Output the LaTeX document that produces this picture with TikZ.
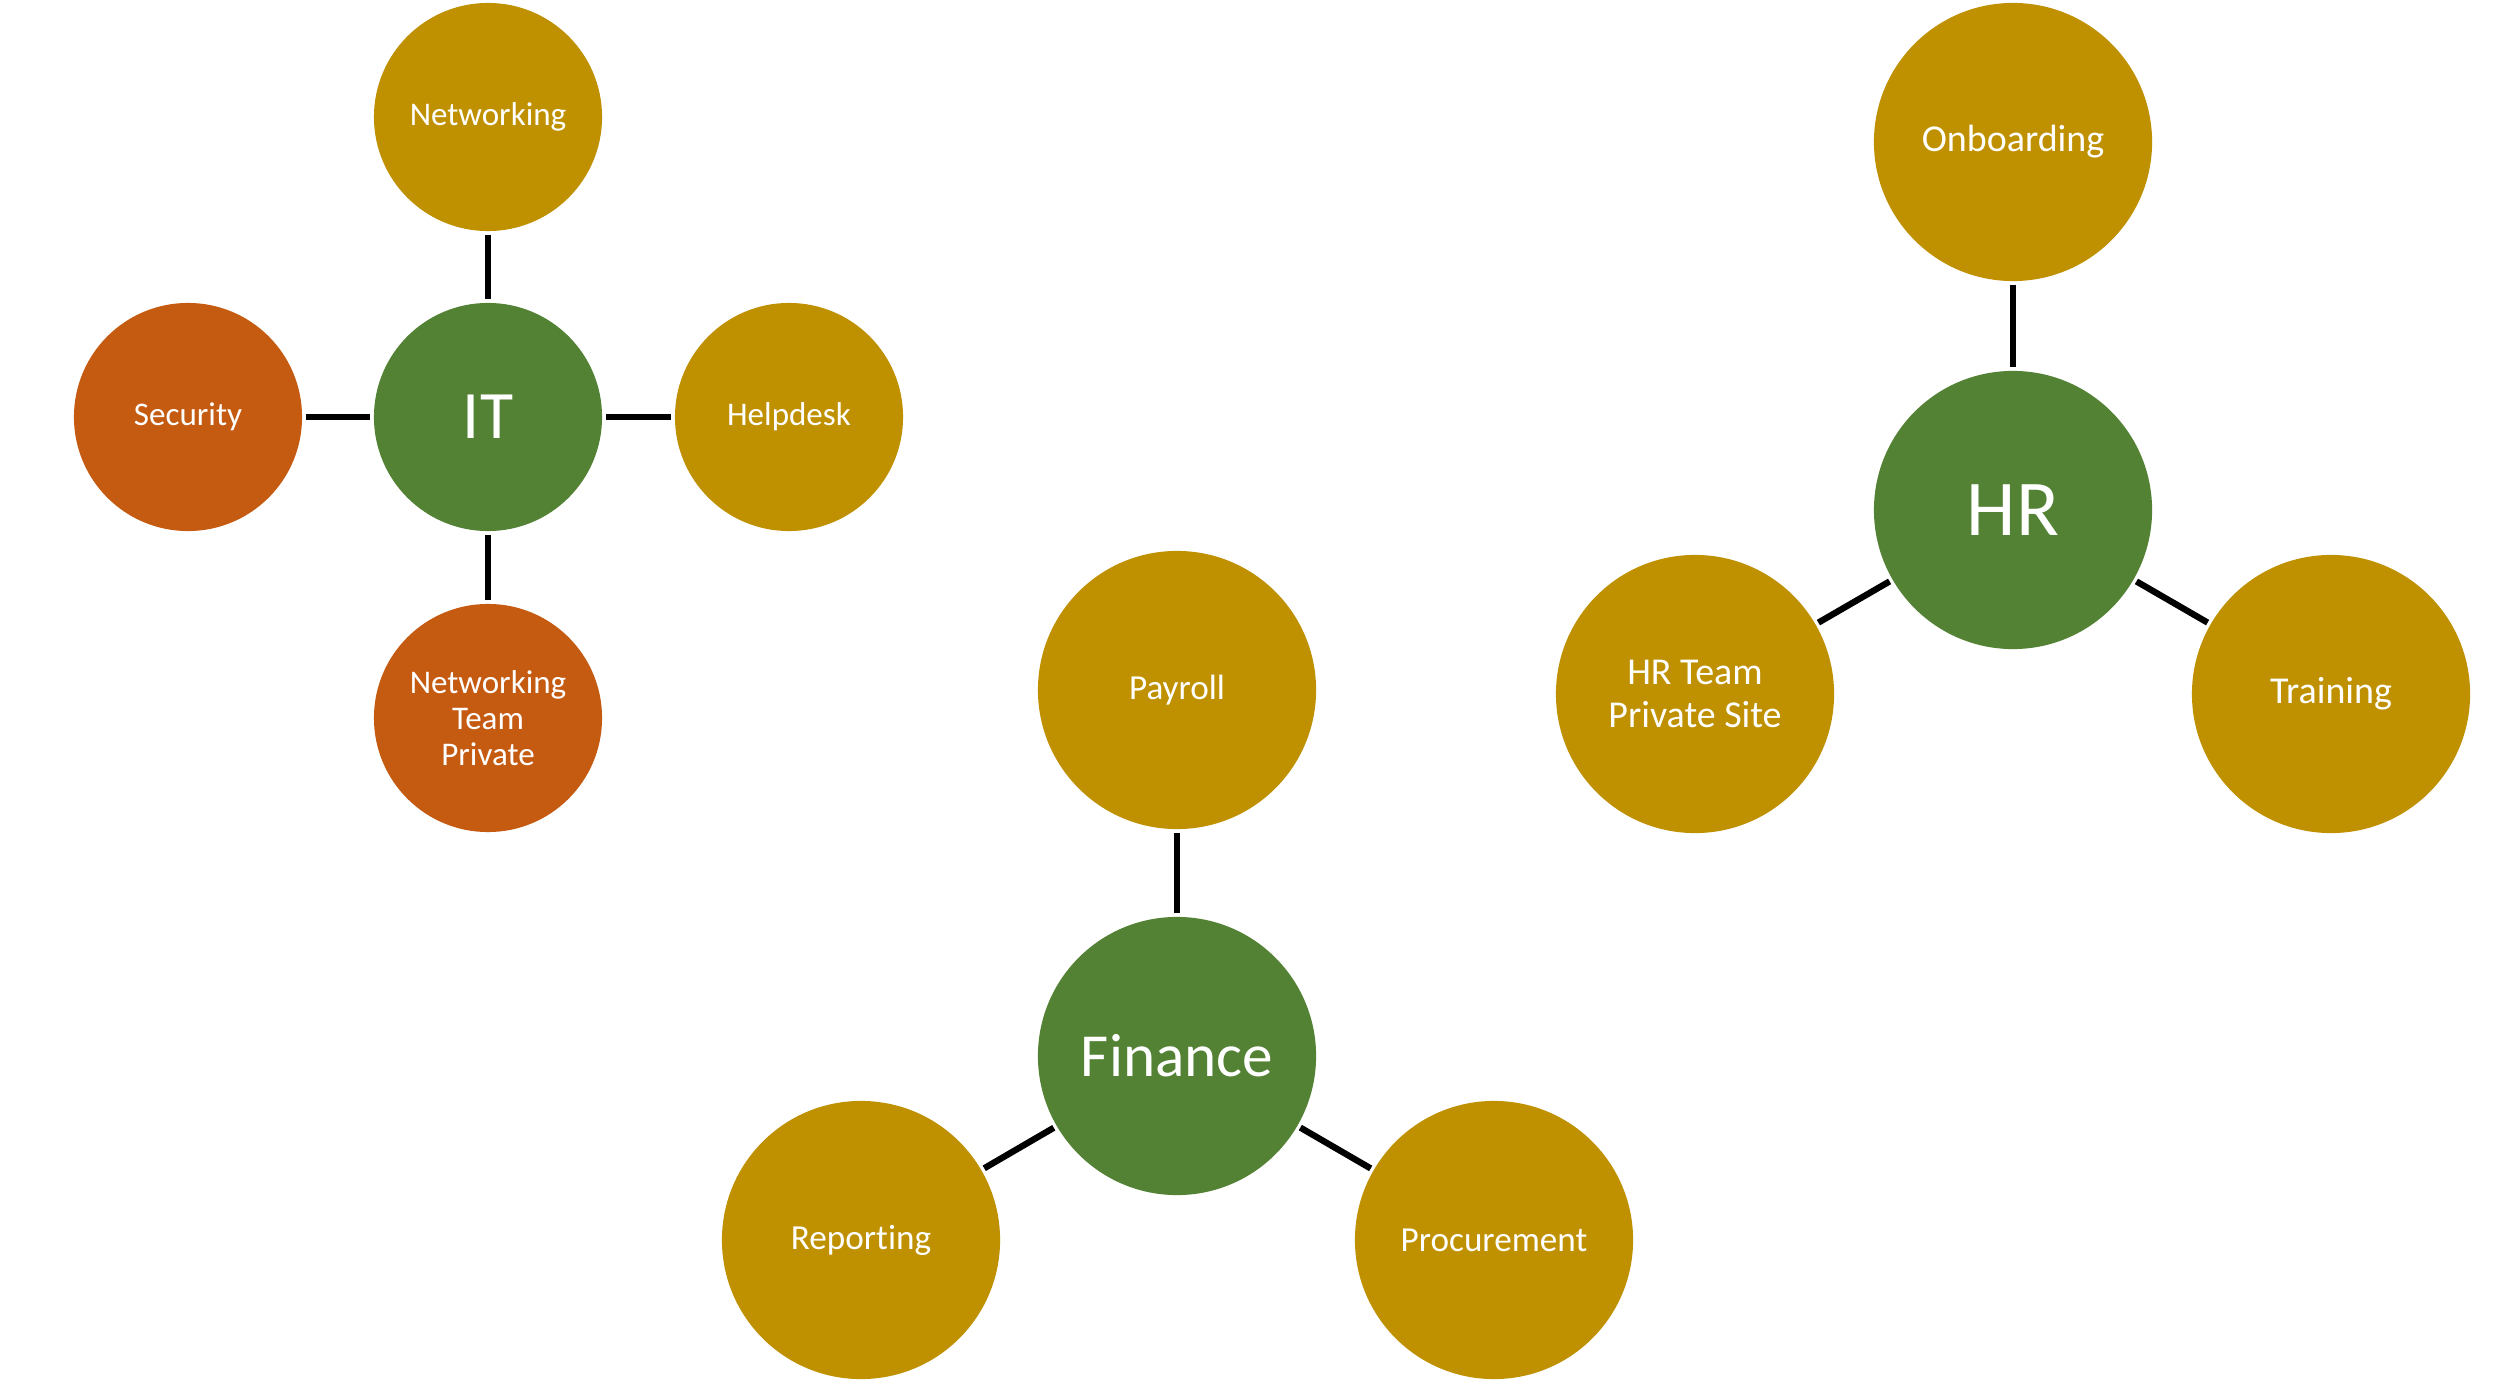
\documentclass[tikz,border=0pt]{standalone}
\usepackage{fontspec}
\setmainfont{Carlito}[Ligatures=NoCommon]
\definecolor{gold}{HTML}{BF9000}
\definecolor{leafgreen}{HTML}{548235}
\definecolor{rust}{HTML}{C55A11}
\begin{document}
\begin{tikzpicture}[x=0.01cm,y=-0.01cm,
  bubble/.style={circle, inner sep=0pt, text=white, align=center},
  itleaf/.style={bubble, minimum size=2.28cm, font=\fontsize{9.4}{10.3}\selectfont},
  hrleaf/.style={bubble, minimum size=2.78cm, font=\fontsize{10.8}{12.2}\selectfont},
  finleaf/.style={bubble, minimum size=2.78cm, font=\fontsize{10}{11}\selectfont},
  link/.style={line width=1.8pt, black, shorten <=0.8pt, shorten >=0.8pt}
]
\fill[white] (0,0) rectangle (2500,1382);
\useasboundingbox (0,0) rectangle (2500,1382);

% IT cluster
\node[itleaf, fill=leafgreen, font=\fontsize{19.3}{21}\selectfont] (it) at (488,417) {IT};
\node[itleaf, fill=gold] (net) at (488,117) {Networking};
\node[itleaf, fill=rust] (sec) at (188,417) {Security};
\node[itleaf, fill=gold] (help) at (789,417) {Helpdesk};
\node[itleaf, fill=rust] (ntp) at (488,718) {Networking\\Team\\Private};
\draw[link] (net) -- (it);
\draw[link] (sec) -- (it);
\draw[link] (help) -- (it);
\draw[link] (ntp) -- (it);

% HR cluster
\node[hrleaf, fill=leafgreen, font=\fontsize{22.5}{24}\selectfont] (hr) at (2013,510) {HR};
\node[hrleaf, fill=gold] (onb) at (2013,142) {Onboarding};
\node[hrleaf, fill=gold] (hrt) at (1695,694) {HR Team\\Private Site};
\node[hrleaf, fill=gold] (train) at (2331,694) {Training};
\draw[link] (onb) -- (hr);
\draw[link] (hrt) -- (hr);
\draw[link] (train) -- (hr);

% Finance cluster
\node[finleaf, fill=leafgreen, font=\fontsize{17.4}{19}\selectfont] (fin) at (1177,1056) {Finance};
\node[finleaf, fill=gold] (pay) at (1177,690) {Payroll};
\node[finleaf, fill=gold] (rep) at (861,1240) {Reporting};
\node[finleaf, fill=gold] (proc) at (1494,1240) {Procurement};
\draw[link] (pay) -- (fin);
\draw[link] (rep) -- (fin);
\draw[link] (proc) -- (fin);
\end{tikzpicture}
\end{document}
